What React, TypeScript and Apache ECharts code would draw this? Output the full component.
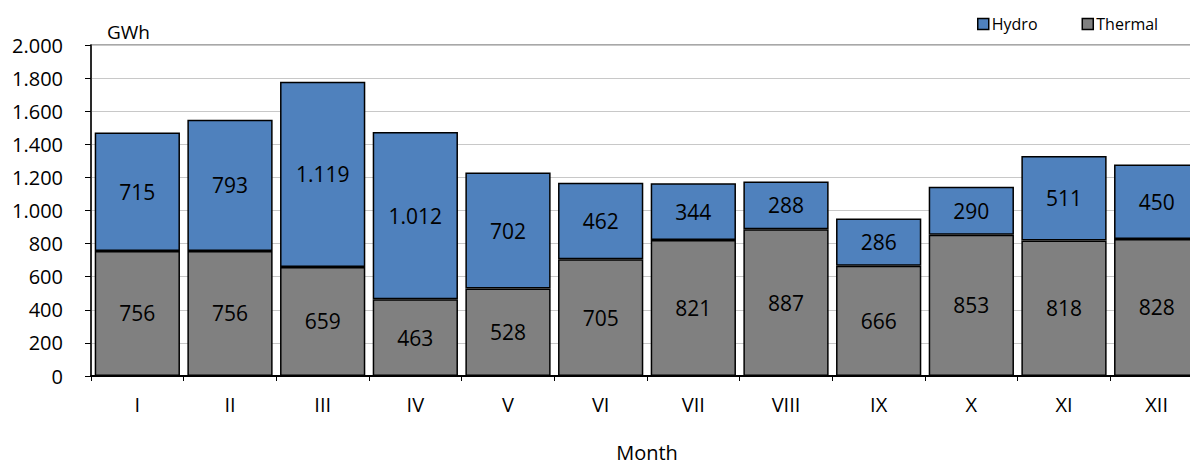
import React, { useEffect, useRef } from "react";
import * as echarts from "echarts";

const months = ["I", "II", "III", "IV", "V", "VI", "VII", "VIII", "IX", "X", "XI", "XII"];
const thermal = [756, 756, 659, 463, 528, 705, 821, 887, 666, 853, 818, 828];
const hydro = [715, 793, 1119, 1012, 702, 462, 344, 288, 286, 290, 511, 450];

const fmt = (v: number) => {
  const s = String(Math.round(v));
  return s.replace(/\B(?=(\d{3})+(?!\d))/g, ".");
};

const FONT = "'Open Sans', 'Noto Sans', sans-serif";

export default function App() {
  const ref = useRef<HTMLDivElement>(null);
  useEffect(() => {
    if (!ref.current) return;
    const chart = echarts.init(ref.current, undefined, { renderer: "svg" });
    const labelStyle = {
      show: true,
      position: "inside" as const,
      color: "#000",
      fontSize: 21,
      fontFamily: FONT,
      formatter: (p: any) => fmt(p.value),
    };
    chart.setOption({
      animation: false,
      backgroundColor: "#fff",
      textStyle: { fontFamily: FONT },
      grid: {
        left: 91,
        top: 45,
        width: 1112,
        height: 331,
        show: true,
        borderColor: "#8c8c8c",
        borderWidth: 1.5,
        containLabel: false,
        outerBoundsMode: "none",
      },
      legend: {
        data: ["Hydro", "Thermal"],
        left: 977,
        top: 16,
        padding: 0,
        itemGap: 44,
        itemWidth: 11,
        itemHeight: 11,
        icon: "rect",
        itemStyle: { borderColor: "#000", borderWidth: 1.5 },
        textStyle: { fontSize: 16, color: "#000", fontFamily: FONT, padding: [0, 0, 0, -2] },
      },
      graphic: [
        {
          type: "text",
          left: 107,
          top: 22,
          style: { text: "GWh", fontSize: 19, fill: "#000", fontFamily: FONT },
        },
      ],
      xAxis: {
        type: "category",
        data: months,
        name: "Month",
        nameLocation: "middle",
        nameGap: 66,
        nameTextStyle: { fontSize: 20, lineHeight: 20, color: "#000", fontFamily: FONT },
        axisLine: { lineStyle: { color: "#000", width: 2 } },
        axisTick: { show: true, length: 5, lineStyle: { color: "#000" } },
        axisLabel: { fontSize: 20, color: "#000", margin: 18, fontFamily: FONT },
      },
      yAxis: {
        type: "value",
        min: 0,
        max: 2000,
        interval: 200,
        axisLine: { show: true, lineStyle: { color: "#000", width: 1.5 } },
        axisTick: { show: true, length: 6, lineStyle: { color: "#000" } },
        axisLabel: {
          fontSize: 20,
          color: "#000",
          margin: 28,
          fontFamily: FONT,
          formatter: (v: number) => fmt(v),
        },
        splitLine: { lineStyle: { color: "#c8c8c8", width: 1 } },
      },
      series: [
        {
          name: "Thermal",
          type: "bar",
          stack: "t",
          data: thermal,
          barCategoryGap: "8%",
          itemStyle: { color: "#808080", borderColor: "#000", borderWidth: 1.5 },
          label: labelStyle,
        },
        {
          name: "Hydro",
          type: "bar",
          stack: "t",
          data: hydro,
          barCategoryGap: "8%",
          itemStyle: { color: "#4f81bd", borderColor: "#000", borderWidth: 1.5 },
          label: labelStyle,
        },
      ],
    });
    return () => chart.dispose();
  }, []);
  return (
    <div
      ref={ref}
      style={{ position: "fixed", left: 0, top: 0, width: 1190, height: 464 }}
    />
  );
}
